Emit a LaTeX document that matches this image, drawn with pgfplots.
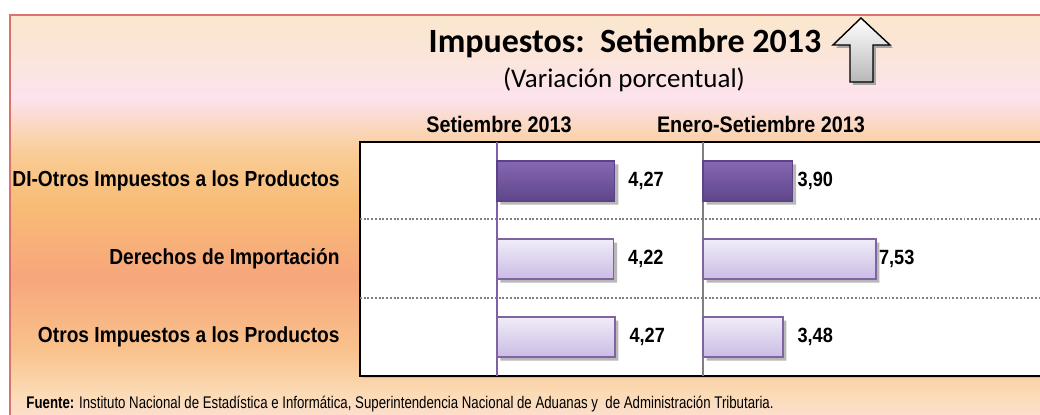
\documentclass[border=0pt]{standalone}
\usepackage{fontspec}
\usepackage{pgfplots}
\pgfplotsset{compat=1.18}
\setmainfont{Liberation Sans}
\newfontfamily\narrow[FakeStretch=0.88]{Liberation Sans}
\newfontfamily\footfont[FakeStretch=0.785]{Liberation Sans}
\newfontfamily\calibri{Carlito}

\definecolor{frameline}{HTML}{D9736B}
\definecolor{bg1}{HTML}{FBE7CD}
\definecolor{bg2}{HTML}{FBE5DA}
\definecolor{bg3}{HTML}{FCE3EE}
\definecolor{bg4}{HTML}{F9CC95}
\definecolor{bg5}{HTML}{F8BC76}
\definecolor{bg6}{HTML}{F7A67C}
\definecolor{bg7}{HTML}{F9C18B}
\definecolor{bg8}{HTML}{FBDBB6}
\definecolor{bg9}{HTML}{FCE0D6}
\definecolor{dark1}{HTML}{8767B3}
\definecolor{dark2}{HTML}{5E4689}
\definecolor{darkedge}{HTML}{5B4388}
\definecolor{light1}{HTML}{F1EDF8}
\definecolor{light2}{HTML}{CABBE5}
\definecolor{lightedge}{HTML}{8064A2}
\definecolor{zeroleft}{HTML}{7F5FAA}

\pgfdeclareverticalshading{bgshade}{100bp}{color(0bp)=(bg9); color(25.7bp)=(bg9); color(29.3bp)=(bg8); color(34.9bp)=(bg7); color(43.5bp)=(bg6); color(52.2bp)=(bg5); color(58.3bp)=(bg4); color(65.1bp)=(bg3); color(70bp)=(bg2); color(75bp)=(bg1); color(100bp)=(bg1)}

\pgfplotsset{
  /pgf/number format/.cd, fixed, fixed zerofill, precision=2, use comma, assume math mode=true,
  /pgfplots/.cd,
  bars/.style={xbar, bar width=0.513, bar shift=0pt},
  shadowbar/.style={bars, draw=none, fill=black!28, xshift=1.5pt, yshift=-1.5pt, forget plot},
  darkbar/.style={bars, draw=darkedge, line width=0.5pt, top color=dark1, bottom color=dark2},
  lightbar/.style={bars, draw=lightedge, line width=0.6pt, top color=light1, bottom color=light2},
  vlab/.style={nodes near coords, point meta=x,
    nodes near coords style={font=\narrow\bfseries\fontsize{8.8}{10}\selectfont, text=black, anchor=west, inner sep=0pt, xshift=#1}},
}

\begin{document}
\begin{tikzpicture}
\useasboundingbox (0,0) rectangle (15.6cm,6.21cm);
\clip (0,0) rectangle (15.6cm,6.21cm);

% fondo, marco y textos en pixeles del original
\begin{scope}[x=0.015cm, y=-0.015cm, shift={(0,6.21cm)}]
  \shade[shading=bgshade] (10,15) rectangle (1050,430);
  \draw[frameline, line width=0.9pt] (10,430) -- (10,15) -- (1050,15);
  \fill[black!25] (362,144) rectangle (1050,378);
  \draw[fill=white, line width=0.7pt] (360,142) rectangle (1050,376);
  \draw[gray, line width=0.5pt, dash pattern=on 0.8pt off 0.8pt] (360,219) -- (1040,219) (360,298) -- (1040,298);

  \node[anchor=base, font=\calibri\bfseries\fontsize{14.5}{17}\selectfont] at (625,53) {Impuestos:~~Setiembre 2013};
  \node[anchor=base, font=\calibri\fontsize{11.5}{14}\selectfont] at (624,88) {(Variación porcentual)};
  \node[anchor=base, font=\narrow\bfseries\fontsize{9.6}{11}\selectfont] at (499,133) {Setiembre 2013};
  \node[anchor=base, font=\narrow\bfseries\fontsize{9.6}{11}\selectfont] at (761,133) {Enero-Setiembre 2013};

  % flecha
  \fill[black!35] (864,21) -- (893,48) -- (876,48) -- (876,85) -- (853,85) -- (853,48) -- (836,48) -- cycle;
  \draw[line width=0.6pt, top color=white, bottom color=black!28] (861,18) -- (890,45) -- (873,45) -- (873,82) -- (850,82) -- (850,45) -- (833,45) -- cycle;

  \node[anchor=base west, inner sep=0pt, font=\footfont\fontsize{7.2}{9}\selectfont] at (26,409) {\textbf{Fuente:} Instituto Nacional de Estadística e Informática, Superintendencia Nacional de Aduanas y~ de Administración Tributaria.};
\end{scope}

% panel Setiembre 2013
\begin{axis}[at={(5.40cm,0.57cm)}, anchor=south west, scale only axis,
  width=5.145cm, height=3.51cm, xmin=-4.96, xmax=7.46, ymin=0.5, ymax=3.5,
  axis x line=none, axis y line*=left, y axis line style={draw=none},
  ytick={1,2,3}, major tick length=0,
  yticklabels={Otros Impuestos a los Productos, Derechos de Importación, DI-Otros Impuestos a los Productos},
  yticklabel style={font=\narrow\bfseries\fontsize{9.3}{11}\selectfont, anchor=east, inner sep=0pt, xshift=-0.3cm},
  clip=false]
\draw[zeroleft, line width=0.8pt] (axis cs:0,0.5) -- (axis cs:0,3.5);
\addplot[shadowbar] coordinates {(4.27,3) (4.22,2) (4.27,1)};
\addplot[darkbar, vlab=0.195cm] coordinates {(4.27,3)};
\addplot[lightbar, vlab=0.21cm] coordinates {(4.22,2)};
\addplot[lightbar, vlab=0.21cm] coordinates {(4.27,1)};
\end{axis}

% panel Enero-Setiembre 2013
\begin{axis}[at={(10.545cm,0.57cm)}, anchor=south west, scale only axis,
  width=5.055cm, height=3.51cm, xmin=0, xmax=14.68, ymin=0.5, ymax=3.5,
  axis lines=none, clip=false]
\draw[gray, line width=0.6pt] (axis cs:0,0.5) -- (axis cs:0,3.5);
\addplot[shadowbar] coordinates {(3.90,3) (7.53,2) (3.48,1)};
\addplot[darkbar, vlab=0.068cm] coordinates {(3.90,3)};
\addplot[lightbar, vlab=0.038cm] coordinates {(7.53,2)};
\addplot[lightbar, vlab=0.21cm] coordinates {(3.48,1)};
\end{axis}
\end{tikzpicture}
\end{document}
